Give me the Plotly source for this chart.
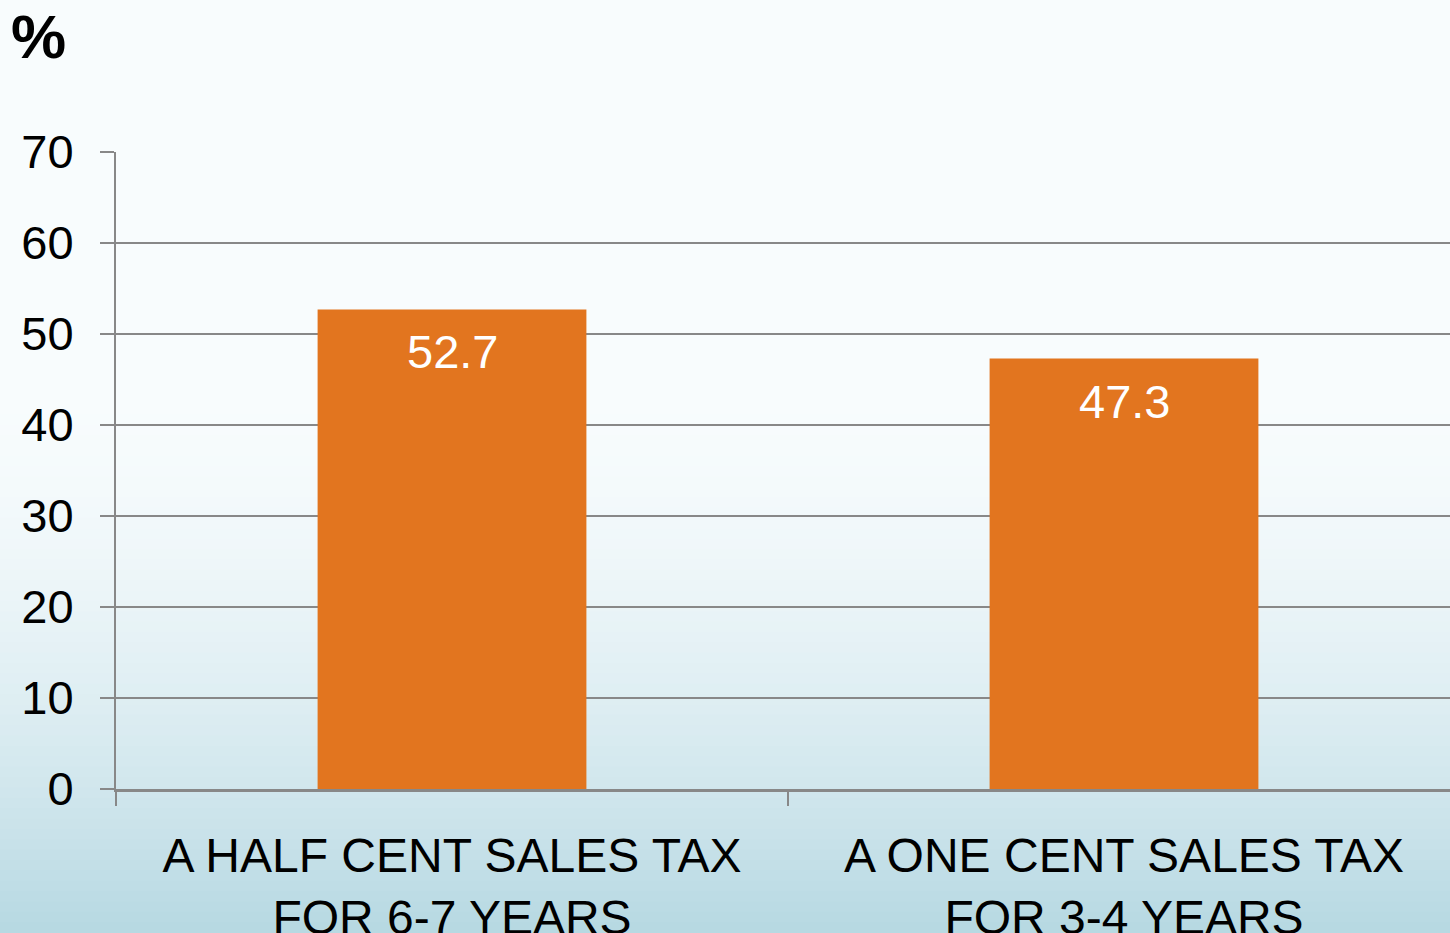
import plotly.graph_objects as go

categories = ["A HALF CENT SALES TAX<br>FOR 6-7 YEARS", "A ONE CENT SALES TAX<br>FOR 3-4 YEARS"]
values = [52.7, 47.3]
y_ticks = [0, 10, 20, 30, 40, 50, 60, 70]

W, H = 1450, 933
ML, MR, MT, MB = 116, 0, 152, 144
PW, PH = W - ML - MR, H - MT - MB

FONT = "Liberation Sans, Arial, sans-serif"
GRID = "#888888"
BAR = "#e2751f"

fig = go.Figure()
fig.add_trace(go.Bar(
    x=categories, y=values,
    marker=dict(color=BAR, line=dict(width=0)),
    hoverinfo="skip",
))

for c, v in zip(categories, values):
    fig.add_annotation(x=c, y=v, text=f"{v}", showarrow=False, yanchor="top",
                       yshift=-14, font=dict(family=FONT, size=47, color="white"))

# background vertical gradient
def px_to_paper_y(py):
    return (H - MB - py) / PH

def px_to_paper_x(px):
    return (px - ML) / PW

top = (248, 252, 253)
bot = (182, 216, 226)
N = 90
shapes = []
for i in range(N):
    y0 = H * i / N
    y1 = H * (i + 1) / N
    ym = (y0 + y1) / 2
    t = max(0.0, (ym - 380) / (H - 380))
    t = t ** 1.7
    col = tuple(round(top[k] + (bot[k] - top[k]) * t) for k in range(3))
    shapes.append(dict(type="rect", xref="paper", yref="paper", layer="below",
                       x0=px_to_paper_x(-5), x1=px_to_paper_x(W + 5),
                       y0=px_to_paper_y(y1 + 0.5), y1=px_to_paper_y(y0 - 0.5),
                       fillcolor="rgb(%d,%d,%d)" % col, line=dict(width=0)))

fig.add_annotation(xref="paper", yref="paper", x=px_to_paper_x(9), y=px_to_paper_y(0),
                   xanchor="left", yanchor="top", showarrow=False, text="<b>%</b>",
                   font=dict(family=FONT, size=62, color="black"))

fig.update_layout(
    width=W, height=H,
    margin=dict(l=ML, r=MR, t=MT, b=MB, pad=0, autoexpand=False),
    paper_bgcolor="rgb(248,252,253)",
    plot_bgcolor="rgba(0,0,0,0)",
    showlegend=False,
    bargap=0.6,
    shapes=shapes,
    font=dict(family=FONT, color="black"),
)
fig.update_xaxes(
    type="category", range=[-0.5, -0.5 + PW / 672.0], automargin=False,
    showgrid=False, showline=True, linecolor=GRID, linewidth=3,
    ticks="outside", tickson="boundaries", ticklen=14, tickwidth=2, tickcolor=GRID,
    tickfont=dict(family=FONT, size=48, color="black"),
    ticklabelstandoff=22,
)
fig.update_yaxes(
    range=[0, 70], tickvals=y_ticks, ticktext=[str(t) for t in y_ticks],
    automargin=False,
    showgrid=True, gridcolor=GRID, gridwidth=2,
    showline=True, linecolor=GRID, linewidth=2, zeroline=False,
    ticks="outside", ticklen=14, tickwidth=2, tickcolor=GRID,
    tickfont=dict(family=FONT, size=47, color="black"),
    ticklabelstandoff=17,
)

fig.write_html(
    "out.html",
    config={"displayModeBar": False},
    post_script="document.body.style.margin='0px';document.body.style.overflow='hidden';",
)
